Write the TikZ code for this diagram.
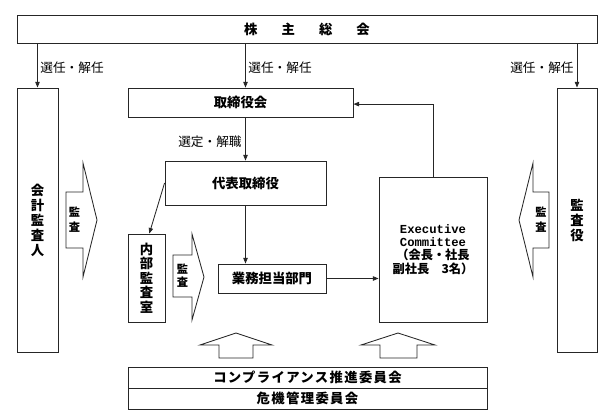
\documentclass[tikz,border=0pt]{standalone}
\usepackage{fontspec}
\setmainfont{Noto Sans CJK JP}
\setmonofont{Liberation Mono}
\usetikzlibrary{arrows.meta}

\begin{document}
\begin{tikzpicture}[x=0.025cm,y=-0.025cm,line width=0.6pt,
    box/.style={draw=black!85,inner sep=0pt,align=center,
                font=\fontsize{9.5}{10.7}\selectfont\bfseries},
    label node/.style={inner sep=0pt,font=\fontsize{9}{10}\selectfont},
    arr/.style={draw=black!85,-{Triangle[length=1.4mm,width=1.1mm]}},
    fat/.style={draw=black!85,fill=white},
    fat text/.style={inner sep=0pt,align=center,font=\fontsize{8}{10.7}\selectfont\bfseries}]

\useasboundingbox (0,0) rectangle (599,410);

% boxes
\node[box,minimum width=14.5cm,minimum height=0.7cm] (soukai) at (307,29)
  {株\hspace{1.8em}主\hspace{1.8em}総\hspace{1.8em}会};
\node[box,minimum width=1.025cm,minimum height=6.6cm] (kansanin) at (37.5,220)
  {会\\計\\監\\査\\人};
\node[box,minimum width=1cm,minimum height=6.6cm] (kansayaku) at (577,220)
  {監\\査\\役};
\node[box,minimum width=5.625cm,minimum height=0.725cm] (torikai) at (240.5,102.5)
  {取締役会};
\node[box,minimum width=4.025cm,minimum height=1.1cm] (daihyo) at (245.5,183)
  {代表取締役};
\node[box,minimum width=0.925cm,minimum height=2.2cm,
      font=\fontsize{9.5}{10.3}\selectfont\bfseries] (naibu) at (146.5,278)
  {内\\部\\監\\査\\室};
\node[box,minimum width=2.7cm,minimum height=0.725cm] (gyomu) at (272,278.5)
  {業務担当部門};
\node[box,minimum width=2.7cm,minimum height=3.625cm,
      font=\fontsize{8.7}{9.5}\selectfont\bfseries] (exec) at (433,249.5)
  {\ttfamily Executive\\\ttfamily Committee\\（会長・社長\\副社長　3名）};
\node[box,minimum width=8.975cm,minimum height=0.525cm,
      font=\fontsize{9.5}{10.7}\selectfont\bfseries\addfontfeature{LetterSpace=10}] (comp) at (307.5,377.5)
  {コンプライアンス推進委員会};
\node[box,minimum width=8.975cm,minimum height=0.525cm,
      font=\fontsize{9.5}{10.7}\selectfont\bfseries\addfontfeature{LetterSpace=10}] (kiki) at (307.5,398.5)
  {危機管理委員会};

% block arrows
\draw[fat] (66,192) -- (83,192) -- (83,163) -- (97,220) -- (83,277) -- (83,248) -- (66,248) -- cycle;
\node[fat text] (kansaL) at (74.5,220) {監\\査};
\draw[fat] (173,255) -- (192,255) -- (192,234) -- (204,277) -- (192,320) -- (192,297) -- (173,297) -- cycle;
\node[fat text,font=\fontsize{8}{9.3}\selectfont\bfseries] (kansaN) at (182.5,276) {監\\査};
\draw[fat] (549,192) -- (533,192) -- (533,163) -- (519,220) -- (533,277) -- (533,248) -- (549,248) -- cycle;
\node[fat text] (kansaR) at (541,220) {監\\査};
\draw[fat] (219,358) -- (219,345) -- (200,345) -- (236,333) -- (272,345) -- (253,345) -- (253,358) -- cycle;
\draw[fat] (380,358) -- (380,345) -- (361,345) -- (398,333) -- (435,345) -- (417,345) -- (417,358) -- cycle;

% connectors
\draw[arr] (soukai.south -| kansanin.north) -- (kansanin.north);
\draw[arr] (soukai.south -| daihyo.north) -- (torikai.north -| daihyo.north);
\draw[arr] (soukai.south -| kansayaku.north) -- (kansayaku.north);
\draw[arr] (torikai.south -| daihyo.north) -- (daihyo.north);
\draw[arr] (daihyo.west) -- ([xshift=0.07cm]naibu.north);
\draw[arr] (daihyo.south) -- (gyomu.north -| daihyo.south);
\draw[arr] (gyomu.east) -- (exec.west |- gyomu.east);
\draw[arr] (exec.north) |- ([yshift=-0.04cm]torikai.east);

\node[label node,anchor=west] (senL) at (40,68) {選任・解任};
\node[label node,anchor=west] (senM) at (248,68) {選任・解任};
\node[label node,anchor=east] (senR) at (574,68) {選任・解任};
\node[label node,anchor=east] (sentei) at (242,142) {選定・解職};

\end{tikzpicture}
\end{document}
